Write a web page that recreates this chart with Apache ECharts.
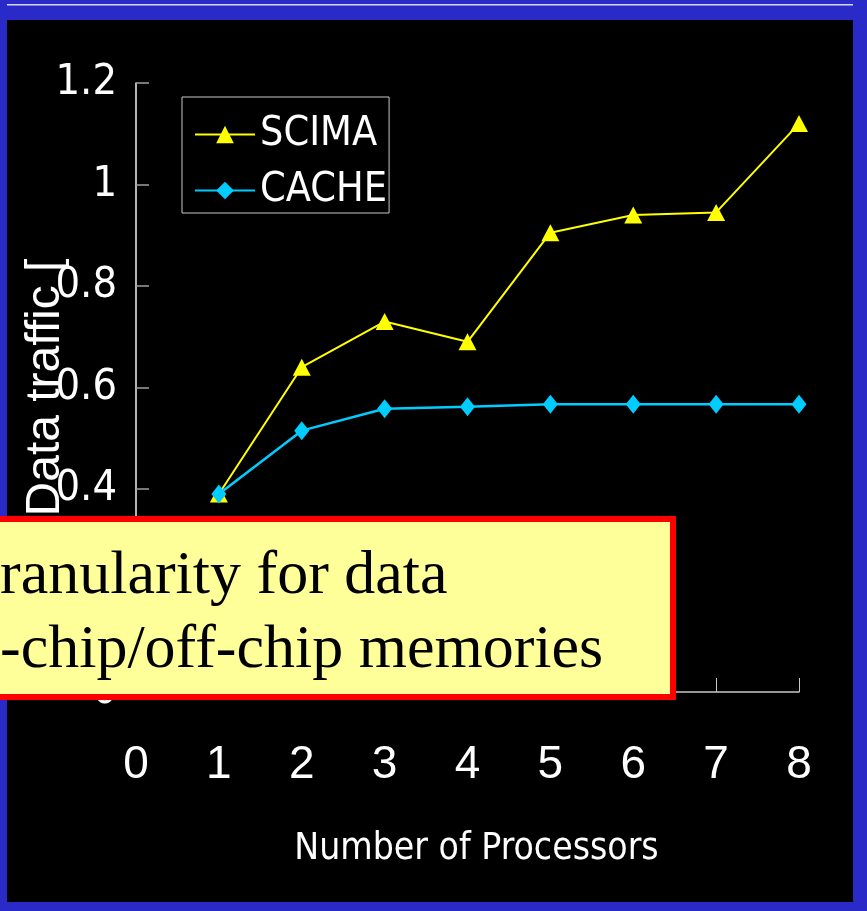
<!DOCTYPE html>
<html>
<head>
<meta charset="utf-8">
<script src="https://cdn.jsdelivr.net/npm/echarts@6/dist/echarts.min.js"></script>
<style>
  html, body { margin: 0; padding: 0; background: #000; }
  #chart { width: 867px; height: 911px; }
</style>
</head>
<body>
<div id="chart"></div>
<script>
// Data traffic per processor count
const processors   = [1, 2, 3, 4, 5, 6, 7, 8];
const scimaTraffic = [0.39, 0.64, 0.73, 0.69, 0.905, 0.94, 0.945, 1.12];
const cacheTraffic = [0.39, 0.515, 0.558, 0.562, 0.567, 0.567, 0.567, 0.567];
const seriesNames  = ['SCIMA', 'CACHE'];
const yTickLabels  = ['0', '0.2', '0.4', '0.6', '0.8', '1', '1.2'];
const xTickLabels  = ['0', '1', '2', '3', '4', '5', '6', '7', '8'];
const noteLines    = ['ranularity for data', '-chip/off-chip memories'];

const narrow = "'DejaVu Sans Condensed', 'Liberation Sans Narrow', 'Liberation Sans', Arial, sans-serif";
const sans = "'Liberation Sans', Arial, sans-serif";
const serif = "'Liberation Serif', 'Times New Roman', serif";
const frameBlue = '#2A2AC8';

const chart = echarts.init(document.getElementById('chart'), null, { renderer: 'canvas' });

const pair = (xs, ys) => xs.map((x, i) => [x, ys[i]]);

const frameRect = (x, y, w, h, fill) => ({
  type: 'rect', z: 50, silent: true,
  shape: { x, y, width: w, height: h }, style: { fill }
});

chart.setOption({
  backgroundColor: '#000',
  animation: false,
  grid: { left: 136, right: 68, top: 83, bottom: 219, containLabel: false, outerBoundsMode: 'none' },
  legend: {
    orient: 'vertical',
    left: 182,
    top: 97,
    padding: [15, 2, 0, 12],
    itemGap: 11,
    itemWidth: 60,
    itemHeight: 22,
    borderColor: '#c8c8c8',
    borderWidth: 1,
    textStyle: { color: '#fff', fontSize: 41, fontFamily: narrow, lineHeight: 45 },
    data: seriesNames
  },
  xAxis: {
    type: 'value',
    min: 0,
    max: 8,
    interval: 1,
    name: 'Number of Processors',
    nameLocation: 'middle',
    nameGap: 139,
    nameMoveOverlap: false,
    nameTextStyle: { color: '#fff', fontSize: 37, fontFamily: narrow, padding: [0, 0, 0, 18] },
    axisLine: { show: true, lineStyle: { color: '#c8c8c8', width: 1.5 } },
    axisTick: { show: true, inside: true, length: 14, lineStyle: { color: '#c8c8c8', width: 1 } },
    axisLabel: {
      color: '#fff', fontSize: 46, fontFamily: sans, margin: 50,
      formatter: v => xTickLabels[Math.round(v)]
    },
    splitLine: { show: false }
  },
  yAxis: {
    type: 'value',
    min: 0,
    max: 1.2,
    interval: 0.2,
    name: 'Data traffic [',
    nameLocation: 'middle',
    nameRotate: 90,
    nameGap: 66,
    nameMoveOverlap: false,
    nameTextStyle: { color: '#fff', fontSize: 48, fontFamily: sans },
    axisLine: { show: true, lineStyle: { color: '#f0f0f0', width: 1.5 } },
    axisTick: { show: true, inside: true, length: 13, lineStyle: { color: '#a0a0a0', width: 1.5 } },
    axisLabel: {
      color: '#fff', fontSize: 43, fontFamily: narrow, margin: 19,
      formatter: v => yTickLabels[Math.round(v / 0.2)]
    },
    splitLine: { show: false }
  },
  series: [
    {
      name: seriesNames[0],
      type: 'line',
      data: pair(processors, scimaTraffic),
      symbol: 'triangle',
      symbolSize: [18, 17],
      lineStyle: { color: '#FFFF00', width: 2 },
      itemStyle: { color: '#FFFF00' },
      z: 3
    },
    {
      name: seriesNames[1],
      type: 'line',
      data: pair(processors, cacheTraffic),
      symbol: 'diamond',
      symbolSize: [15, 19],
      lineStyle: { color: '#00CCFF', width: 2.5 },
      itemStyle: { color: '#00CCFF' },
      z: 4
    }
  ],
  graphic: [
    // slide frame
    frameRect(0, 0, 867, 20, frameBlue),
    frameRect(0, 4, 867, 1.5, '#d8d8f4'),
    frameRect(0, 0, 7, 911, frameBlue),
    frameRect(853, 0, 14, 911, frameBlue),
    frameRect(0, 902, 867, 9, frameBlue),
    // callout note over the lower plot area
    {
      type: 'rect', z: 100,
      shape: { x: -10, y: 519, width: 683, height: 178 },
      style: { fill: '#FFFF99', stroke: '#FF0000', lineWidth: 6 }
    },
    {
      type: 'text', z: 101, x: 0, y: 546,
      style: { text: noteLines[0], fill: '#000', fontSize: 62, fontFamily: serif }
    },
    {
      type: 'text', z: 101, x: 0, y: 620,
      style: { text: noteLines[1], fill: '#000', fontSize: 62, fontFamily: serif }
    }
  ]
});
</script>
</body>
</html>
